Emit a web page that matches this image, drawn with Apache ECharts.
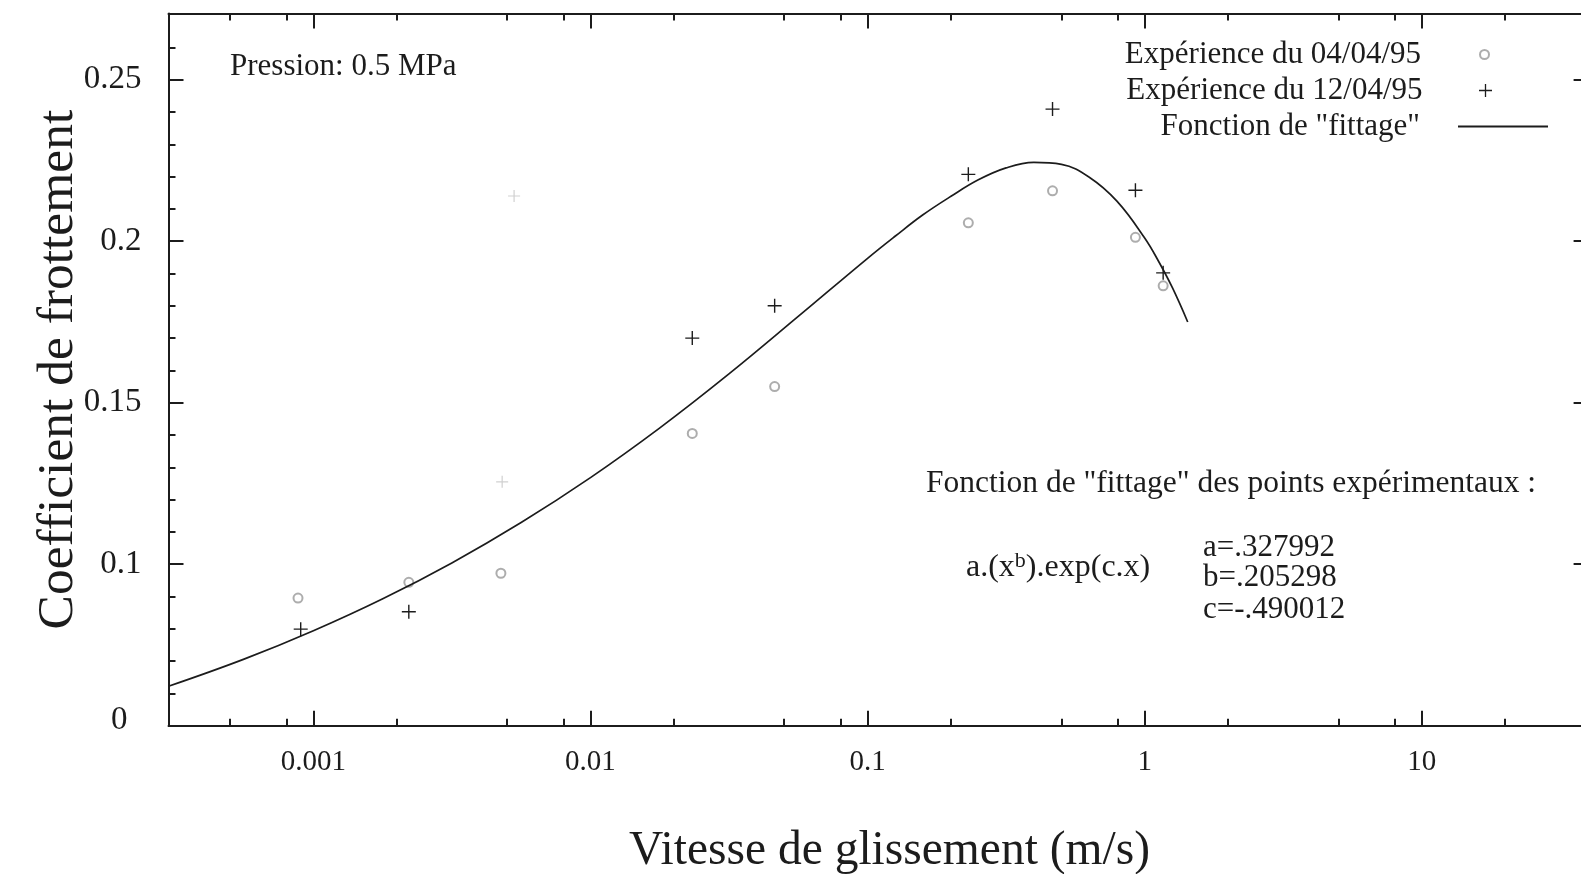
<!DOCTYPE html>
<html><head><meta charset="utf-8">
<script src="https://cdn.jsdelivr.net/npm/echarts@6/dist/echarts.min.js"></script>
<style>html,body{margin:0;padding:0;background:#fff}#c{width:1581px;height:874px}</style>
</head><body><div id="c"></div>
<script>
// ---- data ----
const xMajorTicks = [0.001, 0.01, 0.1, 1, 10];
const xMajorLabels = ['0.001', '0.01', '0.1', '1', '10'];
const xMinorTicks = [0.0005, 0.0008, 0.002, 0.005, 0.008, 0.02, 0.05, 0.08, 0.2, 0.5, 0.8, 2, 5, 8, 20];
const yMajorTicks = [0.05, 0.1, 0.15, 0.2, 0.25];
const yMajorLabels = ['0', '0.1', '0.15', '0.2', '0.25'];
const yMinorTicks = [0.06, 0.07, 0.08, 0.09, 0.11, 0.12, 0.13, 0.14, 0.16, 0.17, 0.18, 0.19, 0.21, 0.22, 0.23, 0.24, 0.26];

// Expérience du 04/04/95 (circles)
const circX = [0.00088, 0.00221, 0.00475, 0.0233, 0.0462, 0.231, 0.465, 0.926, 1.166];
const circY = [0.0895, 0.0944, 0.0972, 0.1405, 0.155, 0.2057, 0.2156, 0.2012, 0.1862];
// Expérience du 12/04/95 (crosses)
const plusX = [0.0009, 0.00221, 0.0233, 0.0462, 0.231, 0.465, 0.926, 1.166];
const plusY = [0.0799, 0.0853, 0.170, 0.180, 0.2207, 0.2409, 0.2158, 0.1902];
// faint crosses of the same experiment
const faintX = [0.0048, 0.0053];
const faintY = [0.1255, 0.2140];
// Fonction de "fittage" (curve as read)
const fitX = [0.0003, 0.000562, 0.001, 0.00178, 0.00316, 0.00562, 0.01, 0.0178, 0.0316, 0.0562, 0.1, 0.126, 0.158, 0.2, 0.251, 0.316, 0.398, 0.501, 0.631, 0.794, 1.0, 1.122, 1.259, 1.43];
const fitY = [0.0622, 0.0706, 0.0794, 0.0893, 0.1004, 0.1129, 0.1268, 0.1422, 0.1589, 0.1767, 0.1947, 0.2016, 0.2081, 0.2139, 0.2190, 0.2227, 0.2244, 0.2238, 0.2198, 0.2124, 0.2010, 0.1938, 0.1856, 0.1750];

const zip = (a, b) => a.map((v, i) => [v, b[i]]);
const FONT = '"Liberation Serif", "Times New Roman", serif';
const INK = '#1c1c1c';
const PLUS = 'path://M9,0H11V9H20V11H11V20H9V11H0V9H9Z';

function near(a, b) { return Math.abs(Math.log10(a) - Math.log10(b)) < 1e-6; }

function xAxisCfg(pos, major) {
  return {
    type: 'log', logBase: 10, min: 0.0003, max: 40, position: pos, nameMoveOverlap: false,
    axisLine: { show: major, lineStyle: { color: INK, width: 2 } },
    axisTick: { show: true, inside: true, length: major ? 15 : 7,
      customValues: major ? xMajorTicks : xMinorTicks, lineStyle: { color: INK, width: 2 } },
    axisLabel: { show: major && pos === 'bottom', customValues: xMajorTicks, margin: 22,
      fontFamily: FONT, fontSize: 29, color: INK,
      formatter: v => { const i = xMajorTicks.findIndex(t => near(t, v)); return i >= 0 ? xMajorLabels[i] : ''; } },
    splitLine: { show: false }, minorTick: { show: false }, minorSplitLine: { show: false }
  };
}
function yAxisCfg(pos, major) {
  return {
    type: 'value', min: 0.05, max: 0.2705, position: pos, nameMoveOverlap: false,
    axisLine: { show: major, lineStyle: { color: INK, width: 2 } },
    axisTick: { show: true, inside: true, length: major ? 15 : 7,
      customValues: major ? yMajorTicks : yMinorTicks, lineStyle: { color: INK, width: 2 } },
    axisLabel: { show: major && pos === 'left', customValues: yMajorTicks, margin: 27,
      fontFamily: FONT, fontSize: 33, color: INK,
      formatter: v => { const i = yMajorTicks.findIndex(t => Math.abs(t - v) < 1e-9);
        if (i < 0) return ''; return i === 0 ? '{z|' + yMajorLabels[i] + '}' : yMajorLabels[i]; },
      rich: { z: { fontFamily: FONT, fontSize: 33, color: INK, padding: [0, 14, 10, 0] } } },
    splitLine: { show: false }
  };
}

const xAxes = [xAxisCfg('bottom', true), xAxisCfg('bottom', false), xAxisCfg('top', true), xAxisCfg('top', false)];
xAxes[0].name = 'Vitesse de glissement (m/s)';
xAxes[0].nameLocation = 'middle';
xAxes[0].nameGap = 102;
xAxes[0].nameTextStyle = { fontFamily: FONT, fontSize: 47.5, color: INK, padding: [0, 0, 0, 22] };
const yAxes = [yAxisCfg('left', true), yAxisCfg('left', false), yAxisCfg('right', true), yAxisCfg('right', false)];
yAxes[0].name = 'Coefficient de frottement';
yAxes[0].nameLocation = 'middle';
yAxes[0].nameGap = 84;
yAxes[0].nameTextStyle = { fontFamily: FONT, fontSize: 51.5, color: INK };

const legendText = (pad) => ({ fontFamily: FONT, fontSize: 31, color: INK, lineHeight: 31, padding: [0, pad, 0, 0] });

const option = {
  animation: false,
  backgroundColor: '#ffffff',
  grid: { left: 168.5, width: 1420.1, top: 13.5, height: 712.2, containLabel: false, outerBoundsMode: 'none' },
  xAxis: xAxes,
  yAxis: yAxes,
  legend: [
    { data: ['Expérience du 04/04/95'], orient: 'vertical', align: 'right', right: 91, top: 39, padding: 0,
      itemWidth: 9, itemHeight: 9, textStyle: legendText(54), selectedMode: false },
    { data: ['Expérience du 12/04/95'], orient: 'vertical', align: 'right', right: 89, top: 75, padding: 0,
      itemWidth: 14, itemHeight: 13, textStyle: legendText(51), selectedMode: false },
    { data: [{ name: 'Fonction de "fittage"', icon: 'rect' }], orient: 'vertical', align: 'right', right: 33, top: 111, padding: 0,
      itemWidth: 90, itemHeight: 2, textStyle: legendText(33), selectedMode: false }
  ],
  graphic: [
    { type: 'text', x: 230, y: 66.5, style: { text: 'Pression: 0.5 MPa', font: '31px ' + FONT, fill: INK, verticalAlign: 'middle' } },
    { type: 'text', x: 926, y: 484, style: { text: 'Fonction de "fittage" des points expérimentaux :', font: '31.5px ' + FONT, fill: INK, verticalAlign: 'middle' } },
    { type: 'text', x: 966, y: 568, style: { text: 'a.(x{sup|b}).exp(c.x)', font: '32px ' + FONT, fill: INK, verticalAlign: 'middle',
        rich: { sup: { fontFamily: FONT, fontSize: 22, fill: INK, verticalAlign: 'top', lineHeight: 36 } } } },
    { type: 'text', x: 1203, y: 547.5, style: { text: 'a=.327992', font: '31px ' + FONT, fill: INK, verticalAlign: 'middle' } },
    { type: 'text', x: 1203, y: 578, style: { text: 'b=.205298', font: '31px ' + FONT, fill: INK, verticalAlign: 'middle' } },
    { type: 'text', x: 1203, y: 610, style: { text: 'c=-.490012', font: '31px ' + FONT, fill: INK, verticalAlign: 'middle' } }
  ],
  series: [
    { name: 'Expérience du 04/04/95', type: 'scatter', xAxisIndex: 0, yAxisIndex: 0,
      symbol: 'emptyCircle', symbolSize: 9, data: zip(circX, circY),
      itemStyle: { color: '#999999', borderColor: '#999999', borderWidth: 1.3 }, z: 3 },
    { name: 'Expérience du 12/04/95', type: 'scatter', xAxisIndex: 0, yAxisIndex: 0,
      symbol: PLUS, symbolSize: 14, symbolKeepAspect: true, data: zip(plusX, plusY),
      itemStyle: { color: INK, opacity: 1 }, z: 4 },
    { name: 'Expérience du 12/04/95', type: 'scatter', xAxisIndex: 0, yAxisIndex: 0,
      symbol: PLUS, symbolSize: 12, symbolKeepAspect: true, data: zip(faintX, faintY),
      itemStyle: { color: '#c4c4c4' }, z: 2 },
    { name: 'Fonction de "fittage"', type: 'line', xAxisIndex: 0, yAxisIndex: 0,
      data: zip(fitX, fitY), smooth: 0.4, showSymbol: false, symbol: 'none',
      itemStyle: { color: INK }, lineStyle: { color: INK, width: 1.7 }, z: 5 }
  ]
};
const chart = echarts.init(document.getElementById('c'), null, { renderer: 'canvas' });
chart.setOption(option);
</script></body></html>
